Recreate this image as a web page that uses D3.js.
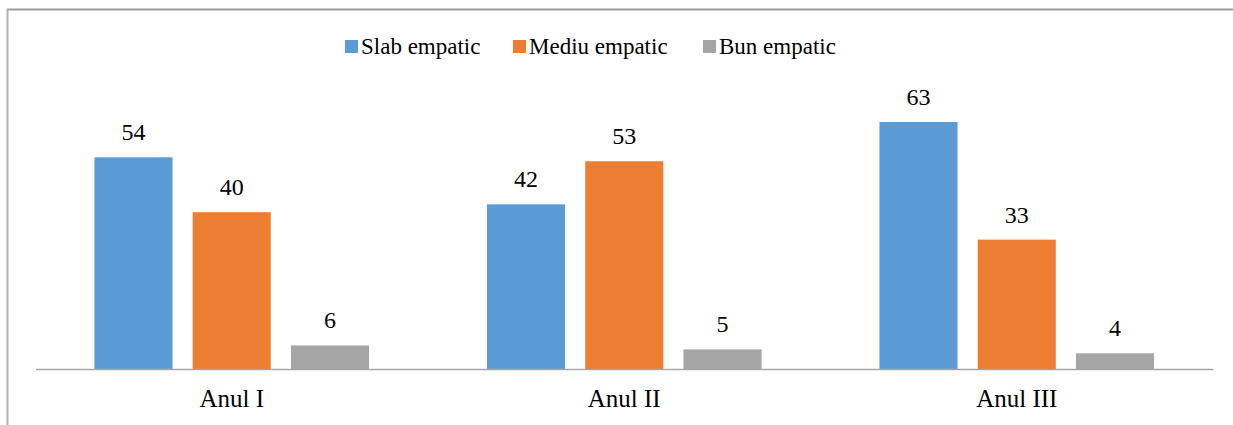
<!DOCTYPE html>
<html><head><meta charset="utf-8">
<script src="https://cdn.jsdelivr.net/npm/d3@7"></script>
<style>
html,body{margin:0;padding:0;background:#fff;}
svg{display:block;}
svg text{font-family:"Liberation Serif","Times New Roman",serif !important;fill:#000;}
</style>
</head><body>
<svg id="chart" width="1233" height="425"></svg>
<script>
const categories = ["Anul I", "Anul II", "Anul III"];
const seriesNames = ["Slab empatic", "Mediu empatic", "Bun empatic"];
const slabEmpatic = [54, 42, 63];
const mediuEmpatic = [40, 53, 33];
const bunEmpatic = [6, 5, 4];
const seriesValues = [slabEmpatic, mediuEmpatic, bunEmpatic];
const colors = ["#5B9BD5", "#ED7D31", "#A5A5A5"];

const svg = d3.select("#chart");

// frame
svg.append("line").attr("x1", 7).attr("x2", 1233).attr("y1", 9.5).attr("y2", 9.5)
  .attr("stroke", "#9a9a9a").attr("stroke-width", 2);
svg.append("line").attr("x1", 7.5).attr("x2", 7.5).attr("y1", 9).attr("y2", 425)
  .attr("stroke", "#b0b0b0").attr("stroke-width", 2);

const x0 = d3.scaleBand().domain(categories).range([35.5, 1213]).paddingInner(0).paddingOuter(0);
const x1 = d3.scaleBand().domain(seriesNames).range([0, x0.bandwidth()]).paddingInner(0.205).paddingOuter(0.6);
const y = d3.scaleLinear().domain([0, 70]).range([369, 94.6]);

const data = [];
categories.forEach((c, i) => seriesNames.forEach((s, j) => data.push({c, s, j, v: seriesValues[j][i]})));

svg.append("g").selectAll("rect").data(data).join("rect")
  .attr("x", d => x0(d.c) + x1(d.s))
  .attr("y", d => y(d.v))
  .attr("width", x1.bandwidth())
  .attr("height", d => y(0) - y(d.v))
  .attr("fill", d => colors[d.j]);

svg.append("g").selectAll("text").data(data).join("text")
  .attr("x", d => x0(d.c) + x1(d.s) + x1.bandwidth() / 2)
  .attr("y", d => y(d.v) - 17)
  .attr("text-anchor", "middle")
  .style("font-size", "24px")
  .text(d => d.v);

// axis
const xAxis = svg.append("g").attr("transform", `translate(0,${y(0)})`)
  .call(d3.axisBottom(x0).tickSize(0).tickPadding(0));
xAxis.select(".domain").attr("stroke", "#a6a6a6").attr("stroke-width", 1.5);
xAxis.selectAll("text").style("font-size", "25px")
  .attr("dy", 0).attr("y", 38);

// legend
const legendX = [345, 513, 703];
const lg = svg.append("g").selectAll("g").data(seriesNames).join("g")
  .attr("transform", (d, i) => `translate(${legendX[i]},40)`);
lg.append("rect").attr("width", 13).attr("height", 13).attr("fill", (d, i) => colors[i]);
lg.append("text").attr("x", 16).attr("y", 13.5).style("font-size", "23px")
  .text(d => d);
</script>
</body></html>
